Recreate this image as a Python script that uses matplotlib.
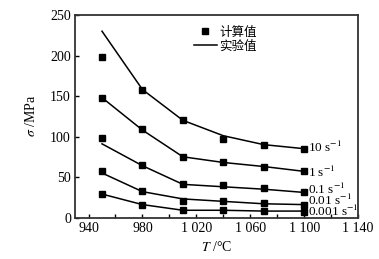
import matplotlib
matplotlib.use("Agg")
import matplotlib.pyplot as plt
from matplotlib.ticker import FixedLocator, FuncFormatter

plt.rcParams["font.family"] = ["Liberation Serif", "Noto Sans CJK SC"]
plt.rcParams["mathtext.fontset"] = "stix"

temps = [950, 980, 1010, 1040, 1070, 1100]
rate_labels = ["10 s$^{-1}$", "1 s$^{-1}$", "0.1 s$^{-1}$", "0.01 s$^{-1}$", "0.001 s$^{-1}$"]

exp_10 = [230, 158, 120, 101, 90, 85]
exp_1 = [148, 108, 75, 68, 63, 57]
exp_01 = [91, 64, 41, 38, 35, 31]
exp_001 = [55, 32, 23, 20, 17, 16]
exp_0001 = [29, 16, 9, 9, 8, 8]

calc_10 = [198, 158, 121, 97, 90, 85]
calc_1 = [148, 109, 75, 68, 63, 57]
calc_01 = [98, 65, 41, 40, 36, 32]
calc_001 = [57, 33, 20, 20, 18, 15]
calc_0001 = [29, 16, 9, 9, 8, 7]

label_y = [86, 56, 35, 21.5, 8]

exp_all = [exp_10, exp_1, exp_01, exp_001, exp_0001]
calc_all = [calc_10, calc_1, calc_01, calc_001, calc_0001]


def thousands(v, pos):
    v = int(round(v))
    if v >= 1000:
        return f"{v // 1000} {v % 1000:03d}"
    return str(v)


fig = plt.figure(figsize=(3.79, 2.59), dpi=100)
ax = fig.add_axes([0.198, 0.160, 0.747, 0.782])

for i, (e, c) in enumerate(zip(exp_all, calc_all)):
    ax.plot(temps, e, color="black", lw=1.1,
            label="实验值" if i == 0 else None)
    ax.plot(temps, c, ls="none", marker="s", ms=4.5, color="black",
            label="计算值" if i == 0 else None)
    ax.text(temps[-1] + 2.5, label_y[i], rate_labels[i], fontsize=9.5,
            va="center", ha="left")

ax.set_xlim(930, 1140)
ax.set_ylim(0, 250)
ax.xaxis.set_major_locator(FixedLocator([940, 980, 1020, 1060, 1100, 1140]))
ax.xaxis.set_minor_locator(FixedLocator([960, 1000, 1040, 1080, 1120]))
ax.xaxis.set_major_formatter(FuncFormatter(thousands))
ax.set_yticks([0, 50, 100, 150, 200, 250])
ax.tick_params(which="both", direction="in", length=3, width=1,
               labelsize=10, pad=3, top=False, right=False)
for s in ax.spines.values():
    s.set_linewidth(1.3)
    s.set_color("#333333")

ax.set_xlabel("$T$ /°C", fontsize=10, labelpad=4)
ax.set_ylabel("$\\sigma$ /MPa", fontsize=10, labelpad=9)

h, l = ax.get_legend_handles_labels()
order = [1, 0]
ax.legend([h[k] for k in order], [l[k] for k in order], loc="upper left",
          bbox_to_anchor=(0.39, 0.99), frameon=False,
          handlelength=1.8, handletextpad=0.2, labelspacing=0.05,
          borderpad=0.2, prop={"family": "Noto Sans CJK SC", "size": 9})

fig.savefig("out.png", dpi=100)
